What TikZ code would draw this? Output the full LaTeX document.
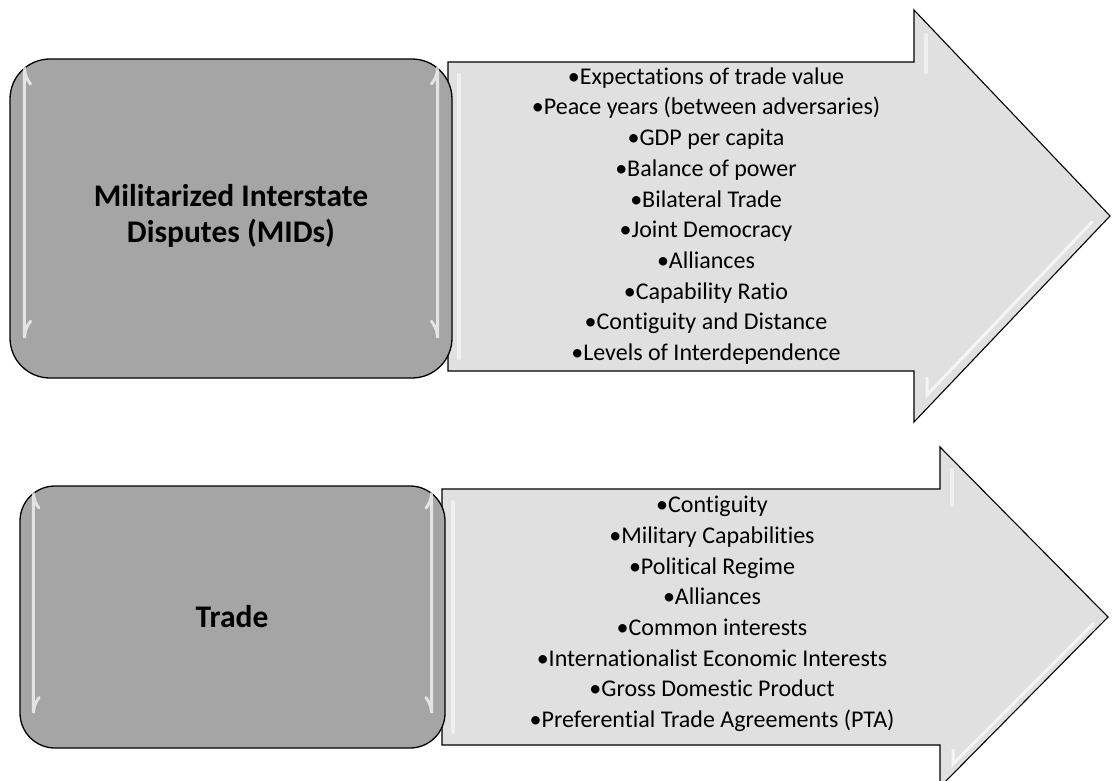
\documentclass[tikz,border=0pt]{standalone}
\usepackage{fontspec}
\setmainfont{Carlito}[RawFeature={-liga;-clig}]
\definecolor{boxgray}{HTML}{A5A5A5}
\definecolor{arrowgray}{HTML}{E0E0E0}
\begin{document}
\begin{tikzpicture}[x=1pt,y=-1pt,
  causebox/.style={draw=black, line width=1.3pt, fill=boxgray},
  factorarrow/.style={draw=black, line width=1.1pt, fill=arrowgray, line join=miter},
  gloss/.style={draw=white, line width=3pt, opacity=0.7, line cap=round},
  softgloss/.style={draw=white, line width=4pt, opacity=0.5, line cap=round},
  titletext/.style={align=center, inner sep=0pt, font=\fontsize{31.5}{36}\selectfont\bfseries},
  listtext/.style={align=center, inner sep=0pt, font=\fontsize{24}{30.7}\selectfont}]
\useasboundingbox (0,0) rectangle (1113,781);

% ---- upper row: MIDs ----
\draw[factorarrow] (448,62) -- (914,62) -- (914,10) -- (1110,216) -- (914,422) -- (914,371) -- (448,371) -- cycle;
\draw[softgloss] (459,75) -- (459,358);
\draw[softgloss] (926,35) -- (926,72);
\draw[gloss] (1092,222) -- (927,395) -- (927,378);

\draw[causebox, rounded corners=40pt] (10,59) rectangle (452,378);
\draw[gloss] (30.5,84) arc[start angle=140, end angle=180, radius=26] -- (24.5,338)
  arc[start angle=180, end angle=220, radius=26];
\draw[gloss] (431.5,84) arc[start angle=40, end angle=0, radius=26] -- (437.5,338)
  arc[start angle=0, end angle=-40, radius=26];

\node[titletext] (mids) at (231,216) {Militarized Interstate\\Disputes (MIDs)};
\node[listtext] (midsfactors) at (706,216) {%
  •Expectations of trade value\\
  •Peace years (between adversaries)\\
  •GDP per capita\\
  •Balance of power\\
  •Bilateral Trade\\
  •Joint Democracy\\
  •Alliances\\
  •Capability Ratio\\
  •Contiguity and Distance\\
  •Levels of Interdependence};

% ---- lower row: Trade ----
\draw[factorarrow] (442,489) -- (940,489) -- (940,447) -- (1108,617) -- (940,787) -- (940,745) -- (442,745) -- cycle;
\draw[softgloss] (453,502) -- (453,732);
\draw[softgloss] (952,470) -- (952,505);
\draw[gloss] (1093,624) -- (953,764) -- (953,750);

\draw[causebox, rounded corners=35pt] (20,486) rectangle (445,748);
\draw[gloss] (39,508) arc[start angle=140, end angle=180, radius=24] -- (33.5,713)
  arc[start angle=180, end angle=220, radius=24];
\draw[gloss] (426,508) arc[start angle=40, end angle=0, radius=24] -- (431.5,713)
  arc[start angle=0, end angle=-40, radius=24];

\node[titletext] (trade) at (232,617) {Trade};
\node[listtext] (tradefactors) at (712,614) {%
  •Contiguity\\
  •Military Capabilities\\
  •Political Regime\\
  •Alliances\\
  •Common interests\\
  •Internationalist Economic Interests\\
  •Gross Domestic Product\\
  •Preferential Trade Agreements (PTA)};
\end{tikzpicture}
\end{document}
